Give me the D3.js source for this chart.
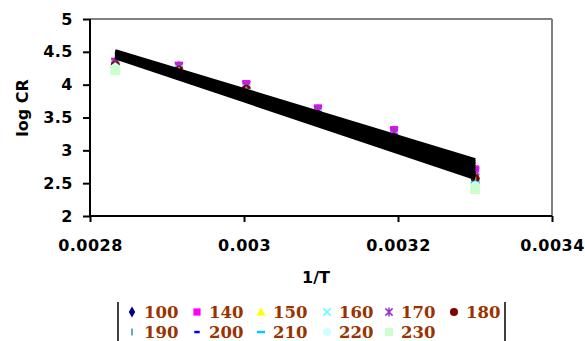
<!DOCTYPE html>
<html><head><meta charset="utf-8">
<script src="https://cdn.jsdelivr.net/npm/d3@7"></script>
<style>
body{margin:0;background:#fff;}
svg{display:block;}
.tick text{font-family:"DejaVu Sans",sans-serif;font-weight:bold;font-size:16px;fill:#000;}
</style></head>
<body><svg id="c" width="585" height="341"></svg>
<script>
// temperatures (K) -> x = 1/T
const temps = [353, 343, 333, 323, 313, 303];
const seriesNames = ["100","140","150","160","170","180","190","200","210","220","230"];
const s100 = [4.33, 4.26, 3.98, 3.60, 3.26, 2.65];
const s140 = [4.35, 4.29, 4.01, 3.64, 3.31, 2.71];
const s150 = [4.32, 4.25, 3.96, 3.58, 3.24, 2.63];
const s160 = [4.31, 4.24, 3.94, 3.56, 3.22, 2.60];
const s170 = [4.34, 4.28, 3.99, 3.62, 3.29, 2.68];
const s180 = [4.30, 4.22, 3.93, 3.54, 3.19, 2.57];
const s190 = [4.29, 4.21, 3.91, 3.52, 3.17, 2.54];
const s200 = [4.27, 4.18, 3.88, 3.48, 3.12, 2.49];
const s210 = [4.28, 4.20, 3.89, 3.50, 3.14, 2.51];
const s220 = [4.26, 4.17, 3.86, 3.46, 3.10, 2.46];
const s230 = [4.22, 4.16, 3.86, 3.48, 3.06, 2.41];
const seriesValues = [s100,s140,s150,s160,s170,s180,s190,s200,s210,s220,s230];
const xTicks = [0.0028, 0.003, 0.0032, 0.0034];
const xTickLabels = ["0.0028","0.003","0.0032","0.0034"];
const yTicks = [2, 2.5, 3, 3.5, 4, 4.5, 5];
const yTickLabels = ["2","2.5","3","3.5","4","4.5","5"];

const colors = ["#000080","#FF00FF","#FFFF00","#66FFFF","#9933CC","#800000","#66B2B2","#0000FF","#00CCFF","#CCFFFF","#CCFFCC"];
const shapes = ["diamond","square","triangle","x","star","circle","bar","dash","longdash","circle","bigsquare"];

const svg = d3.select("#c");
const L=90,R=552,T=19,B=216;
const x = d3.scaleLinear().domain([0.0028,0.0034]).range([L,R]);
const y = d3.scaleLinear().domain([2,5]).range([B,T]);

// border top/right gray
svg.append("line").attr("x1",L).attr("x2",R).attr("y1",T).attr("y2",T).attr("stroke","#808080").attr("stroke-width",2);
svg.append("line").attr("x1",R).attr("x2",R).attr("y1",T).attr("y2",B).attr("stroke","#808080").attr("stroke-width",2);

function marker(g, shape, color, cx, cy, scale){
  const s = scale||1;
  if(shape==="diamond"){
    g.append("path").attr("d",d3.symbol(d3.symbolDiamond,40*s)()).attr("transform",`translate(${cx},${cy})`).attr("fill",color);
  } else if(shape==="square"){
    g.append("rect").attr("x",cx-4*s).attr("y",cy-4*s).attr("width",8*s).attr("height",8*s).attr("fill",color);
  } else if(shape==="bigsquare"){
    g.append("rect").attr("x",cx-5*s).attr("y",cy-5*s).attr("width",10*s).attr("height",10*s).attr("fill",color);
  } else if(shape==="triangle"){
    g.append("path").attr("d",`M${cx},${cy-5*s}L${cx+5*s},${cy+4*s}L${cx-5*s},${cy+4*s}Z`).attr("fill",color);
  } else if(shape==="x"){
    g.append("path").attr("d",`M${cx-4*s},${cy-4*s}L${cx+4*s},${cy+4*s}M${cx+4*s},${cy-4*s}L${cx-4*s},${cy+4*s}`).attr("stroke",color).attr("stroke-width",1.5).attr("fill","none");
  } else if(shape==="star"){
    g.append("path").attr("d",`M${cx-4*s},${cy-4*s}L${cx+4*s},${cy+4*s}M${cx+4*s},${cy-4*s}L${cx-4*s},${cy+4*s}M${cx},${cy-5*s}L${cx},${cy+5*s}`).attr("stroke",color).attr("stroke-width",1.5).attr("fill","none");
  } else if(shape==="circle"){
    g.append("circle").attr("cx",cx).attr("cy",cy).attr("r",4.5*s).attr("fill",color);
  } else if(shape==="bar"){
    g.append("line").attr("x1",cx).attr("x2",cx).attr("y1",cy-4*s).attr("y2",cy+4*s).attr("stroke",color).attr("stroke-width",2);
  } else if(shape==="dash"){
    g.append("rect").attr("x",cx-3*s).attr("y",cy-1.2).attr("width",6*s).attr("height",2.5).attr("fill",color);
  } else if(shape==="longdash"){
    g.append("rect").attr("x",cx-4.5*s).attr("y",cy-1.2).attr("width",9*s).attr("height",2.5).attr("fill",color);
  }
}

// markers
const gm = svg.append("g");
seriesValues.forEach((vals,i)=>{
  vals.forEach((v,j)=>marker(gm, shapes[i], colors[i], x(1/temps[j]), y(v), 1));
});

// linear trendlines (least squares)
const gl = svg.append("g");
seriesValues.forEach((vals)=>{
  const xs = temps.map(t=>1/t);
  const mx = d3.mean(xs), my = d3.mean(vals);
  let sxy=0,sxx=0;
  xs.forEach((xv,k)=>{sxy+=(xv-mx)*(vals[k]-my); sxx+=(xv-mx)*(xv-mx);});
  const b = sxy/sxx, a = my-b*mx;
  const x0 = d3.min(xs), x1 = d3.max(xs);
  gl.append("line").attr("x1",x(x0)).attr("y1",y(a+b*x0)).attr("x2",x(x1)).attr("y2",y(a+b*x1))
    .attr("stroke","#000").attr("stroke-width",3.6);
});

// axes
const xAxis = d3.axisBottom(x).tickValues(xTicks).tickSize(6).tickFormat((d,i)=>xTickLabels[i]);
const gx = svg.append("g").attr("transform",`translate(0,${B})`).call(xAxis);
gx.select(".domain").attr("stroke","#000").attr("stroke-width",2).attr("d",`M${L},0H${R}`);
gx.selectAll(".tick line").attr("stroke","#000").attr("stroke-width",2);
gx.selectAll(".tick text").attr("y",29).attr("dy","0.35em").style("letter-spacing","0.5px");

const yAxis = d3.axisLeft(y).tickValues(yTicks).tickSize(7).tickFormat((d,i)=>yTickLabels[i]);
const gy = svg.append("g").attr("transform",`translate(${L},0)`).call(yAxis);
gy.select(".domain").attr("stroke","#000").attr("stroke-width",2).attr("d",`M0,${T}V${B}`);
gy.selectAll(".tick line").attr("stroke","#000").attr("stroke-width",2);
gy.selectAll(".tick text").attr("x",-17).style("letter-spacing","0.5px");

// axis titles
svg.append("text").attr("x",316).attr("y",277).attr("dy","0.35em").attr("text-anchor","middle")
  .style("font-family","DejaVu Sans,sans-serif").style("font-weight","bold").style("font-size","16px").text("1/T");
svg.append("text").attr("transform","translate(22,108) rotate(-90)").attr("dy","0.35em").attr("text-anchor","middle")
  .style("font-family","DejaVu Sans,sans-serif").style("font-weight","bold").style("font-size","16px").text("log CR");

// legend
const lg = svg.append("g");
lg.append("line").attr("x1",118).attr("x2",118).attr("y1",302).attr("y2",341).attr("stroke","#000").attr("stroke-width",1.5);
lg.append("line").attr("x1",505).attr("x2",505).attr("y1",302).attr("y2",341).attr("stroke","#000").attr("stroke-width",1.5);
const legX = [132,197,261,327,389,454];
const legY = [312,332];
seriesNames.forEach((name,i)=>{
  const row = Math.floor(i/6), col = i%6;
  const mx = legX[col], my = legY[row];
  marker(lg, shapes[i], colors[i], mx, my, shapes[i]==="bigsquare"?0.8:0.9);
  lg.append("text").attr("x",mx+12).attr("y",my).attr("dy","0.36em")
    .style("font-family","DejaVu Serif,serif").style("font-weight","bold").style("font-size","16.5px")
    .attr("fill","#993300").text(name);
});
</script></body></html>
